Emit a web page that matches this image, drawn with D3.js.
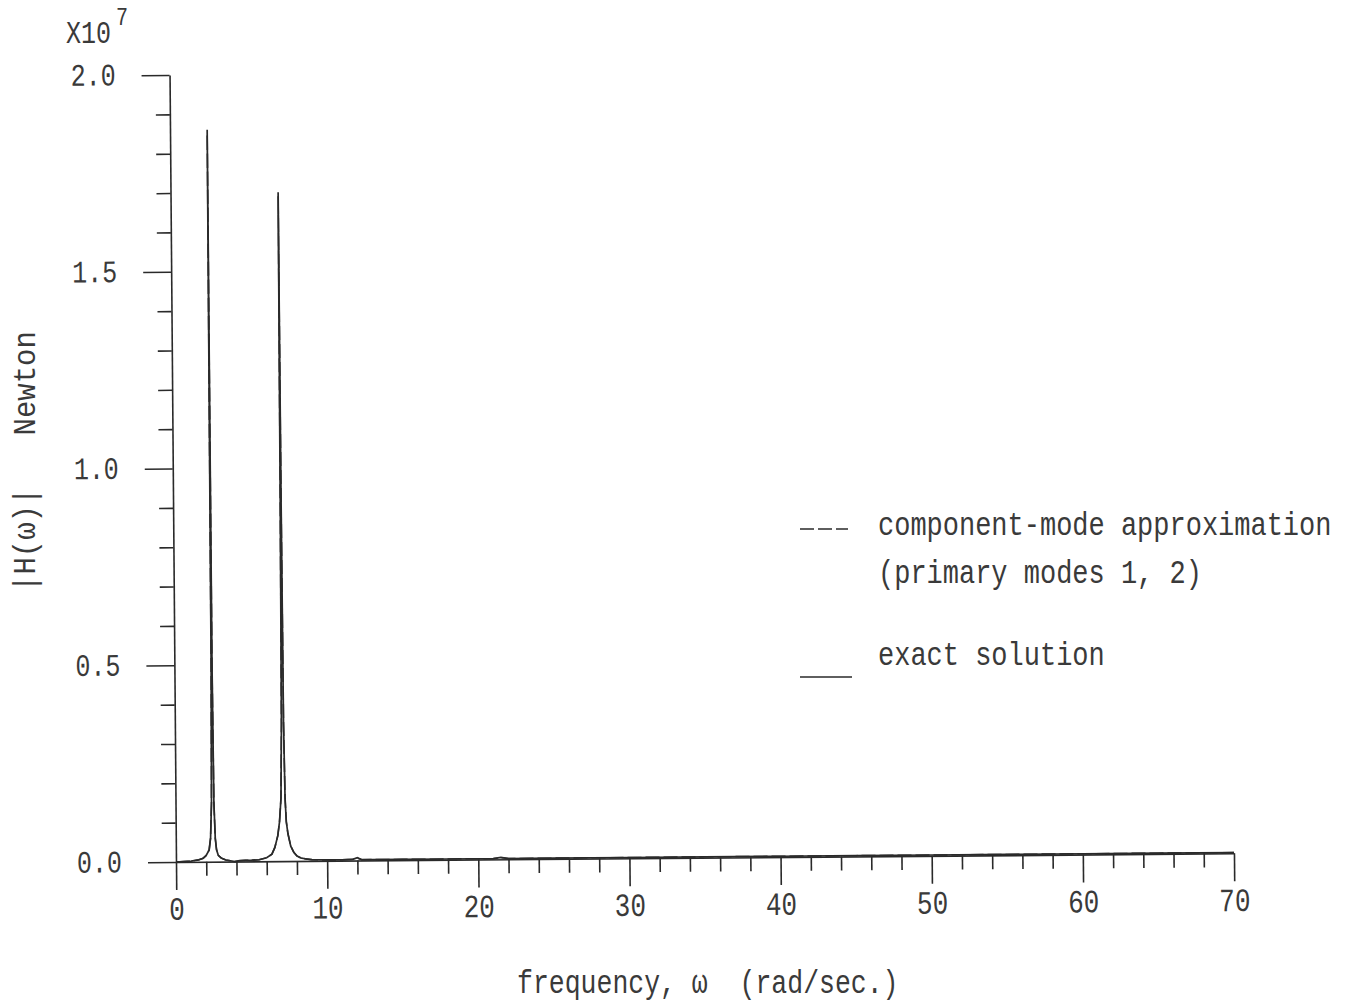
<!DOCTYPE html>
<html><head><meta charset="utf-8">
<script src="https://cdn.jsdelivr.net/npm/d3@7"></script>
<style>
body{margin:0;background:#fff}
text{font-family:"Liberation Mono","Courier New",monospace;fill:#3a3a3a;white-space:pre}
</style>
</head><body>
<svg id="c" width="1348" height="1003" xml:space="preserve"></svg>
<script>
// ---- data ----
const freq = [0, 0.5, 1.0, 1.5, 1.8, 2.0, 2.2, 2.3, 2.38, 2.43, 2.46, 2.49, 2.54, 2.61, 2.69, 2.8, 3.0, 3.3, 3.6, 3.9, 4.2, 4.6,
  5.0, 5.5, 6.0, 6.35, 6.55, 6.75, 6.87, 6.98, 7.05, 7.09, 7.12, 7.15, 7.19, 7.25, 7.32, 7.42, 7.6, 7.8, 8.0, 8.25, 8.6, 9.0,
  10, 11, 11.7, 12.0, 12.3, 13, 15, 18, 21, 21.5, 22, 25, 30, 35, 40, 45, 50, 55, 60, 65, 70];
const exactH = [0.000, 0.001, 0.002, 0.005, 0.009, 0.016, 0.030, 0.060, 0.150, 0.50, 1.86, 0.50, 0.150, 0.060, 0.030, 0.016, 0.009, 0.004, 0.002, 0.000, 0.002, 0.003,
  0.003, 0.004, 0.009, 0.018, 0.035, 0.065, 0.100, 0.160, 0.35, 0.90, 1.70, 0.90, 0.35, 0.160, 0.100, 0.070, 0.038, 0.022, 0.013, 0.008, 0.005, 0.003,
  0.002, 0.002, 0.003, 0.007, 0.002, 0.002, 0.002, 0.002, 0.002, 0.005, 0.002, 0.002, 0.002, 0.002, 0.002, 0.002, 0.002, 0.002, 0.002, 0.002, 0.002];
const approxH = [0.000, 0.001, 0.002, 0.005, 0.009, 0.016, 0.030, 0.060, 0.150, 0.50, 1.85, 0.50, 0.150, 0.060, 0.030, 0.016, 0.009, 0.004, 0.002, 0.000, 0.002, 0.003,
  0.003, 0.004, 0.009, 0.018, 0.035, 0.065, 0.100, 0.160, 0.35, 0.90, 1.69, 0.90, 0.35, 0.160, 0.100, 0.070, 0.038, 0.022, 0.013, 0.008, 0.005, 0.003,
  0.002, 0.002, 0.003, 0.006, 0.002, 0.002, 0.002, 0.002, 0.002, 0.004, 0.002, 0.002, 0.002, 0.002, 0.002, 0.002, 0.002, 0.002, 0.002, 0.002, 0.002];
const xTicks = [0, 10, 20, 30, 40, 50, 60, 70];
const xTickLabels = ["0", "10", "20", "30", "40", "50", "60", "70"];
const xMinorTicks = d3.range(0, 71, 2);
const yTicks = [0, 0.5, 1.0, 1.5, 2.0];
const yTickLabels = ["0.0", "0.5", "1.0", "1.5", "2.0"];
const yMinorTicks = d3.range(0, 21, 1).map(d => d / 10);
const legendLabels = [["component-mode approximation", "(primary modes 1, 2)"], ["exact solution"]];
const yTitle = "|H(\u03c9)|   Newton";
const xTitle = "frequency, \u03c9  (rad/sec.)";

// ---- drawing ----
const ink = "#2a2a2a";
const svg = d3.select("#c");
const ox = 176, oy = 862;
const x = d3.scaleLinear().domain([0, 70]).range([176, 1234]);
const y = d3.scaleLinear().domain([0, 2.0]).range([862, 75]);
const SY = 1.25;

function stext(sel, tx, ty, str, fs, sy = SY, anchor = "start") {
  return sel.append("text")
    .attr("transform", `translate(${tx},${ty}) scale(1,${sy})`)
    .attr("font-size", fs).attr("text-anchor", anchor).text(str);
}

const g = svg.append("g").attr("transform", `rotate(-0.47,${ox},${oy})`);

// x axis
const xMinor = g.append("g").attr("transform", `translate(0,${oy})`)
  .call(d3.axisBottom(x).tickValues(xMinorTicks.filter(d => d % 10 !== 0)).tickSize(14).tickSizeOuter(0).tickFormat(""));
xMinor.select(".domain").remove();
const xAx = g.append("g").attr("transform", `translate(0,${oy})`)
  .call(d3.axisBottom(x).tickValues(xTicks).tickSize(28).tickSizeOuter(0).tickFormat((d, i) => xTickLabels[i]));
xAx.selectAll("text").attr("font-size", 26).attr("y", 47 / SY).attr("dy", "0.33em")
  .attr("transform", `scale(1,${SY})`).attr("font-family", "Liberation Mono");

// y axis
const yMinor = g.append("g").attr("transform", `translate(${ox},0)`)
  .call(d3.axisLeft(y).tickValues(yMinorTicks.filter(d => Math.round(d * 10) % 5 !== 0)).tickSize(14).tickSizeOuter(0).tickFormat(""));
yMinor.select(".domain").remove();
const yAx = g.append("g").attr("transform", `translate(${ox},0)`)
  .call(d3.axisLeft(y).tickValues(yTicks).tickSize(28).tickSizeOuter(0).tickFormat((d, i) => yTickLabels[i]));
yAx.selectAll("text").attr("font-size", 25).attr("x", -54).attr("dy", "0.3em")
  .attr("transform", `scale(1,${SY})`).attr("font-family", "Liberation Mono").attr("y", 0);

g.selectAll(".domain, .tick line").attr("stroke", ink).attr("stroke-width", 1.6);
g.selectAll(".tick text").attr("fill", "#3a3a3a");

// curves
const line = d3.line().x((d, i) => x(freq[i])).y(d => y(d));
g.append("path").datum(exactH).attr("d", line).attr("fill", "none").attr("stroke", ink).attr("stroke-width", 1.7);
g.append("path").datum(approxH).attr("d", line).attr("fill", "none").attr("stroke", ink).attr("stroke-width", 1.5).attr("stroke-dasharray", "14,4");

// scale multiplier
stext(svg, 66, 43, "X10", 25);
stext(svg, 116, 25, "7", 20);

// titles
svg.append("text").attr("transform", `translate(35,592) rotate(-90) scale(1,1.1)`).attr("font-size", 29).text(yTitle);
stext(svg, 517, 993, xTitle, 26.5);

// legend
svg.append("line").attr("x1", 800).attr("x2", 848).attr("y1", 529).attr("y2", 529)
  .attr("stroke", ink).attr("stroke-width", 1.5).attr("stroke-dasharray", "14,4");
stext(svg, 878, 535, legendLabels[0][0], 27);
stext(svg, 878, 583, legendLabels[0][1], 27);
svg.append("line").attr("x1", 800).attr("x2", 852).attr("y1", 677).attr("y2", 677)
  .attr("stroke", ink).attr("stroke-width", 1.5);
stext(svg, 878, 665, legendLabels[1][0], 27);
</script>
</body></html>
